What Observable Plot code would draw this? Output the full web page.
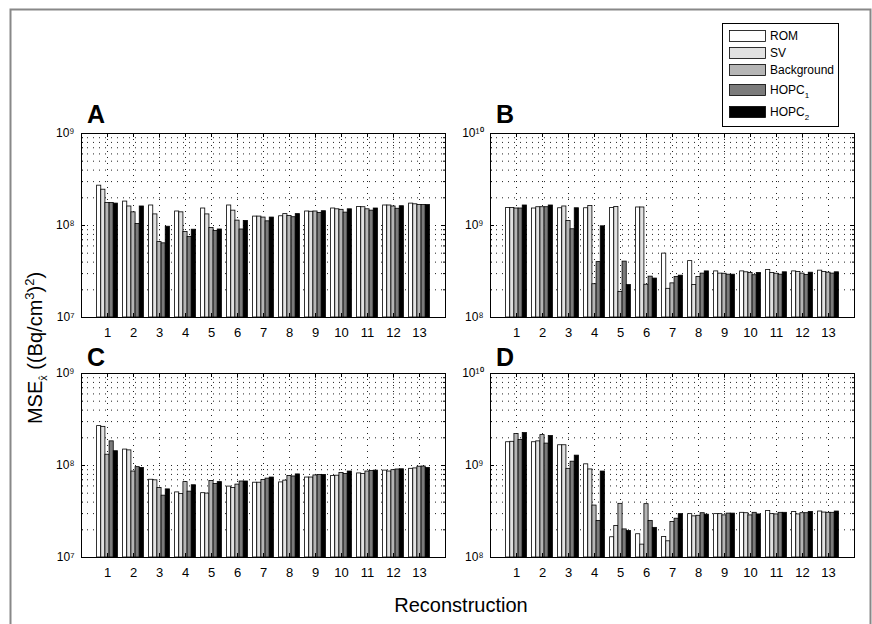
<!DOCTYPE html>
<html><head><meta charset="utf-8">
<script src="https://cdn.jsdelivr.net/npm/d3@7"></script>
<script src="https://cdn.jsdelivr.net/npm/@observablehq/plot@0.6"></script>
<style>
html,body{margin:0;padding:0;background:#fff;}
#fig{position:relative;width:872px;height:624px;overflow:hidden;background:#fff;font-family:"Liberation Sans",Arial,sans-serif;}
#fig > svg{position:absolute;}
</style></head><body><div id="fig"></div>
<script>
// ---- data ----
const groups = [1,2,3,4,5,6,7,8,9,10,11,12,13];
const series = ["ROM","SV","Background","HOPC1","HOPC2"];
const seriesColors = ["#ffffff","#e2e2e2","#b5b5b5","#7b7b7b","#000000"];

// Panel A (y: 1e7 .. 1e9)
const A_ROM = [2.71e8,1.82e8,1.65e8,1.42e8,1.53e8,1.65e8,1.25e8,1.26e8,1.42e8,1.53e8,1.59e8,1.65e8,1.73e8];
const A_SV  = [2.45e8,1.61e8,1.32e8,1.39e8,1.32e8,1.45e8,1.25e8,1.33e8,1.41e8,1.50e8,1.58e8,1.65e8,1.70e8];
const A_BG  = [1.76e8,1.39e8,6.6e7,8.5e7,9.4e7,1.13e8,1.22e8,1.27e8,1.42e8,1.48e8,1.50e8,1.61e8,1.67e8];
const A_H1  = [1.76e8,1.04e8,6.4e7,7.5e7,8.7e7,9.05e7,1.11e8,1.23e8,1.37e8,1.38e8,1.45e8,1.52e8,1.67e8];
const A_H2  = [1.73e8,1.61e8,9.7e7,9.0e7,9.05e7,1.12e8,1.22e8,1.33e8,1.43e8,1.50e8,1.53e8,1.62e8,1.67e8];

// Panel B (y: 1e8 .. 1e10)
const B_ROM = [1.55e9,1.53e9,1.54e9,1.54e9,1.55e9,1.57e9,4.95e8,4.1e8,3.17e8,3.17e8,3.28e8,3.17e8,3.23e8];
const B_SV  = [1.55e9,1.58e9,1.61e9,1.63e9,1.59e9,1.57e9,2.05e8,2.25e8,3.0e8,3.1e8,3.05e8,3.13e8,3.13e8];
const B_BG  = [1.53e9,1.58e9,1.12e9,2.3e8,1.9e8,2.27e8,2.35e8,2.75e8,2.99e8,3.05e8,2.99e8,3.0e8,3.07e8];
const B_H1  = [1.53e9,1.58e9,9.1e8,4.0e8,4.05e8,2.78e8,2.75e8,3.0e8,2.92e8,2.88e8,2.92e8,2.9e8,3.0e8];
const B_H2  = [1.65e9,1.65e9,1.54e9,9.8e8,2.25e8,2.65e8,2.85e8,3.17e8,2.92e8,3.05e8,3.1e8,3.07e8,3.1e8];

// Panel C (y: 1e7 .. 1e9)
const C_ROM = [2.68e8,1.49e8,7.0e7,5.1e7,5.0e7,5.9e7,6.5e7,6.55e7,7.4e7,7.7e7,8.2e7,8.8e7,9.2e7];
const C_SV  = [2.63e8,1.46e8,6.9e7,4.9e7,4.95e7,5.7e7,6.5e7,6.85e7,7.4e7,7.75e7,8.1e7,8.6e7,9.3e7];
const C_BG  = [1.31e8,8.6e7,5.7e7,6.6e7,6.8e7,6.2e7,6.95e7,7.7e7,7.8e7,8.3e7,8.6e7,8.9e7,9.7e7];
const C_H1  = [1.83e8,9.6e7,4.7e7,5.2e7,6.3e7,6.7e7,7.2e7,7.6e7,7.9e7,8.1e7,8.7e7,9.05e7,9.75e7];
const C_H2  = [1.43e8,9.4e7,5.5e7,6.1e7,6.6e7,6.7e7,7.4e7,8.0e7,7.9e7,8.6e7,8.8e7,9.1e7,9.4e7];

// Panel D (y: 1e8 .. 1e10)
const D_ROM = [1.79e9,1.79e9,1.66e9,1.03e9,1.66e8,1.79e8,1.67e8,2.96e8,2.96e8,3.06e8,3.21e8,3.13e8,3.16e8];
const D_SV  = [1.81e9,1.83e9,1.66e9,9.06e8,2.2e8,1.38e8,1.5e8,2.8e8,2.96e8,3.03e8,2.96e8,2.94e8,3.08e8];
const D_BG  = [2.2e9,2.14e9,9.2e8,3.67e8,3.83e8,3.8e8,2.43e8,2.84e8,2.87e8,2.87e8,2.94e8,3.03e8,3.06e8];
const D_H1  = [1.89e9,1.73e9,1.1e9,2.5e8,2.02e8,2.5e8,2.64e8,3.03e8,3.0e8,3.06e8,3.06e8,3.03e8,3.06e8];
const D_H2  = [2.25e9,2.09e9,1.28e9,8.6e8,1.94e8,2.1e8,2.96e8,2.92e8,3.0e8,2.94e8,3.06e8,3.13e8,3.16e8];

const yDomainAC = [1e7, 1e9];
const yDomainBD = [1e8, 1e10];
const yTicksAC = [1e7, 1e8, 1e9];
const yTicksBD = [1e8, 1e9, 1e10];

// ---- drawing ----
const FONT = "'Liberation Sans', Arial, Helvetica, sans-serif";
const fig = document.getElementById("fig");
const SUP = {"0":"\u2070","1":"\u00b9","2":"\u00b2","3":"\u00b3","4":"\u2074","5":"\u2075","6":"\u2076","7":"\u2077","8":"\u2078","9":"\u2079"};
const supFmt = d => "10" + String(Math.round(Math.log10(d))).split("").map(c => SUP[c]).join("");

const PW = 364, PH = 184, ML = 40, MR = 8, MT = 8, MB = 34;
const BW = 0.16; // bar width in group units

function panel(valuesList, domain, yTicks, left, top) {
  const rows = [];
  valuesList.forEach((arr, si) => arr.forEach((v, gi) => rows.push({g: groups[gi], si, s: series[si], v})));
  const e0 = Math.round(Math.log10(domain[0])), e1 = Math.round(Math.log10(domain[1]));
  const minor = [];
  for (let e = e0; e < e1; e++) for (let m = 2; m <= 9; m++) minor.push(m * Math.pow(10, e));
  const gridY = minor.concat(yTicks);
  const svg = Plot.plot({
    width: ML + PW + MR, height: MT + PH + MB,
    marginLeft: ML, marginRight: MR, marginTop: MT, marginBottom: MB,
    style: {fontFamily: FONT, color: "#000", background: "transparent", overflow: "visible"},
    x: {type: "linear", domain: [0, 14]},
    y: {type: "log", domain},
    color: {domain: series, range: seriesColors},
    marks: [
      Plot.ruleY(gridY, {y: d => d, stroke: "#222", strokeWidth: 1, strokeDasharray: "1,5"}),
      Plot.ruleX(groups, {x: d => d, stroke: "#222", strokeWidth: 1, strokeDasharray: "1,5"}),
      Plot.rect(rows, {
        x1: d => d.g + (d.si - 2.5) * BW, x2: d => d.g + (d.si - 1.5) * BW,
        y1: () => domain[0], y2: "v", fill: "s", stroke: "#000", strokeWidth: 0.8
      }),
      Plot.tickX(groups, {x: d => d, insetTop: PH - 4, stroke: "#000"}),
      Plot.tickX(groups, {x: d => d, insetBottom: PH - 4, stroke: "#000"}),
      Plot.tickY(minor, {y: d => d, insetRight: PW - 2, stroke: "#000"}),
      Plot.tickY(minor, {y: d => d, insetLeft: PW - 2, stroke: "#000"}),
      Plot.tickY(yTicks, {y: d => d, insetRight: PW - 4, stroke: "#000"}),
      Plot.tickY(yTicks, {y: d => d, insetLeft: PW - 4, stroke: "#000"}),
      Plot.frame({stroke: "#000", strokeWidth: 1}),
      Plot.axisX(groups, {anchor: "bottom", label: null, tickSize: 0, tickPadding: 10, fontSize: 13, tickFormat: d => String(d)}),
      Plot.axisY(yTicks, {anchor: "left", label: null, tickSize: 0, tickPadding: 7, fontSize: 12, tickFormat: supFmt})
    ]
  });
  svg.style.left = (left - ML) + "px";
  svg.style.top = (top - MT) + "px";
  fig.appendChild(svg);
}

panel([A_ROM, A_SV, A_BG, A_H1, A_H2], yDomainAC, yTicksAC, 81, 133);
panel([B_ROM, B_SV, B_BG, B_H1, B_H2], yDomainBD, yTicksBD, 490, 133);
panel([C_ROM, C_SV, C_BG, C_H1, C_H2], yDomainAC, yTicksAC, 81, 373);
panel([D_ROM, D_SV, D_BG, D_H1, D_H2], yDomainBD, yTicksBD, 490, 373);

// ---- overlay: frame, panel letters, titles, legend ----
const ov = d3.select(fig).append("svg").attr("width", 872).attr("height", 624)
  .style("left", "0px").style("top", "0px").style("font-family", FONT);
ov.append("rect").attr("x", 10.5).attr("y", 9.5).attr("width", 860).attr("height", 640)
  .attr("fill", "none").attr("stroke", "#888").attr("stroke-width", 2);

const letters = [["A", 87, 123], ["B", 496, 123], ["C", 87, 366], ["D", 496, 366]];
letters.forEach(([t, x, y]) => ov.append("text").attr("x", x).attr("y", y)
  .attr("font-size", 25).attr("font-weight", "bold").text(t));

ov.append("text").attr("x", 461).attr("y", 612).attr("text-anchor", "middle")
  .attr("font-size", 20).text("Reconstruction");

const yt = ov.append("text").attr("transform", "translate(42,348) rotate(-90)")
  .attr("text-anchor", "middle").attr("font-size", 20);
yt.append("tspan").text("MSE");
yt.append("tspan").attr("font-size", 11).attr("dy", 5).text("x\u0302");
yt.append("tspan").attr("dy", -5).text(" ((Bq/cm");
yt.append("tspan").attr("font-size", 13).attr("dy", -8).text("3");
yt.append("tspan").attr("dy", 8).text(")");
yt.append("tspan").attr("font-size", 13).attr("dy", -8).text("2");
yt.append("tspan").attr("dy", 8).text(")");

// legend
const lg = ov.append("g");
lg.append("rect").attr("x", 722.5).attr("y", 23.5).attr("width", 116).attr("height", 103)
  .attr("fill", "#fff").attr("stroke", "#000").attr("stroke-width", 1);
const legendY = [36, 53, 70, 90, 112];
series.forEach((s, i) => {
  const cy = legendY[i];
  lg.append("rect").attr("x", 729.5).attr("y", cy - 5.5).attr("width", 36).attr("height", 11)
    .attr("fill", seriesColors[i]).attr("stroke", "#000").attr("stroke-width", 0.8);
  const t = lg.append("text").attr("x", 770).attr("y", cy + 4).attr("font-size", 12);
  const m = s.match(/^(HOPC)(\d)$/);
  if (m) {
    t.append("tspan").text(m[1]);
    t.append("tspan").attr("font-size", 8).attr("dy", 4).text(m[2]);
  } else t.text(s);
});
</script></body></html>
